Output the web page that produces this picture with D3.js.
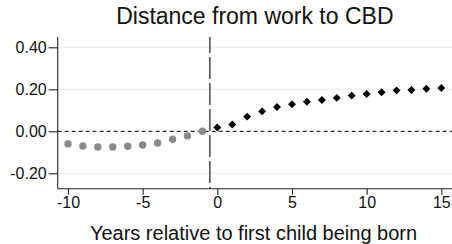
<!DOCTYPE html>
<html>
<head>
<meta charset="utf-8">
<script src="https://cdn.jsdelivr.net/npm/d3@7"></script>
<style>
  body { margin: 0; background: #fff; }
  svg { display: block; font-family: "Liberation Sans", Arial, sans-serif; }
</style>
</head>
<body>
<svg id="chart" width="452" height="244"></svg>
<script>
// Event-study coefficients, years relative to first birth
const preYears = [-10, -9, -8, -7, -6, -5, -4, -3, -2, -1];
const preValues = [-0.060, -0.070, -0.075, -0.075, -0.071, -0.065, -0.056, -0.038, -0.022, 0.000];
const postYears = [0, 1, 2, 3, 4, 5, 6, 7, 8, 9, 10, 11, 12, 13, 14, 15];
const postValues = [0.018, 0.032, 0.070, 0.095, 0.116, 0.129, 0.141, 0.149, 0.159, 0.170,
  0.178, 0.186, 0.195, 0.197, 0.203, 0.206];
const xTicks = [-10, -5, 0, 5, 10, 15];
const yTicks = [-0.2, 0, 0.2, 0.4];
const gridTicks = [-0.2, 0.2, 0.4];

const svg = d3.select('#chart');

// Plot region (Stata-like, open on top and right)
const plotLeft = 57.7, plotRight = 452, plotTop = 37, plotBottom = 188.7;

const x = d3.scaleLinear().domain([-10, 15]).range([68, 441.3]);
const y = d3.scaleLinear().domain([-0.2, 0.4]).range([173.3, 47.3]);

// Faint grid
svg.append('g').selectAll('line').data(gridTicks).enter().
  append('line').
    attr('x1', plotLeft).attr('x2', plotRight).
    attr('y1', (d) => y(d)).attr('y2', (d) => y(d)).
    attr('stroke', '#e6eff1').attr('stroke-width', 1);

// Zero reference line
svg.append('line').
  attr('x1', plotLeft).attr('x2', plotRight).
  attr('y1', y(0)).attr('y2', y(0)).
  attr('stroke', '#000').attr('stroke-width', 1).
  attr('stroke-dasharray', '4,3');

// Birth marker between -1 and 0
svg.append('line').
  attr('x1', x(-0.5)).attr('x2', x(-0.5)).
  attr('y1', plotTop).attr('y2', plotBottom).
  attr('stroke', '#666').attr('stroke-width', 1.8).
  attr('stroke-dasharray', '22,4').attr('stroke-dashoffset', 6);

// Axes
const yAxis = svg.append('g').
  attr('transform', `translate(${plotLeft},0)`).
  call(d3.axisLeft(y).tickValues(yTicks).tickSize(9).tickPadding(2).tickFormat(d3.format('.2f')));
yAxis.select('.domain').attr('d', `M0,${plotTop}V${plotBottom}`);

const xAxis = svg.append('g').
  attr('transform', `translate(0,${plotBottom})`).
  call(d3.axisBottom(x).tickValues(xTicks).tickSize(6).tickPadding(2).tickFormat(d3.format('d')));
xAxis.select('.domain').attr('d', `M${plotLeft},0H${plotRight}`);

svg.selectAll('.domain, .tick line').attr('stroke', '#222').attr('stroke-width', 1.1);
svg.selectAll('.tick text').
  attr('fill', '#111').
  style('font-size', '16px').
  style('font-family', '"Liberation Sans", Arial, sans-serif');
yAxis.selectAll('.tick text').attr('dy', '0.34em');
xAxis.selectAll('.tick text').attr('dy', '0.72em');
// Negative sign as plain hyphen like the original
svg.selectAll('.tick text').text(function() { return this.textContent.replace('\u2212', '-'); });

// Pre-birth coefficients: grey circles
svg.append('g').selectAll('circle').data(preYears).enter().
  append('circle').
    attr('cx', (d) => x(d)).
    attr('cy', (d, i) => y(preValues[i])).
    attr('r', 3.7).
    attr('fill', '#8a8a8a');

// Post-birth coefficients: black diamonds
const diamond = d3.symbol().type(d3.symbolDiamond2).size(40);
svg.append('g').selectAll('path').data(postYears).enter().
  append('path').
    attr('d', diamond).
    attr('transform', (d, i) => `translate(${x(d)},${y(postValues[i])})`).
    attr('fill', '#000');

// Titles
svg.append('text').
  attr('x', (plotLeft + plotRight) / 2).attr('y', 24).
  attr('text-anchor', 'middle').
  style('font-size', '23px').attr('fill', '#111').
  text('Distance from work to CBD');

svg.append('text').
  attr('x', 253.5).attr('y', 239.5).
  attr('text-anchor', 'middle').
  style('font-size', '20px').attr('fill', '#111').
  text('Years relative to first child being born');
</script>
</body>
</html>
